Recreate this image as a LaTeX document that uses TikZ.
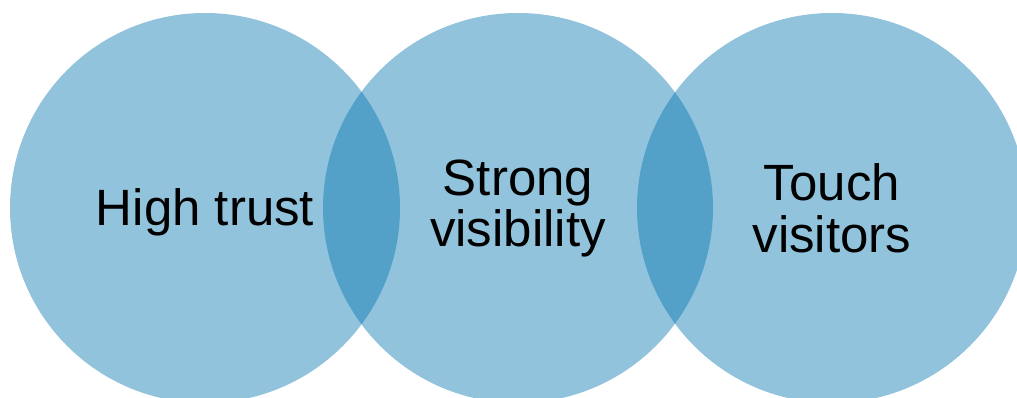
\documentclass[tikz,border=0pt]{standalone}
\usepackage{fontspec}
\setmainfont{Liberation Sans}
\begin{document}
\begin{tikzpicture}[x=1pt,y=-1pt,
  bubble/.style={circle, minimum size=390pt, inner sep=0pt, fill={rgb,255:red,2;green,116;blue,174}, fill opacity=0.43, text opacity=1, text=black, align=center, font=\fontsize{51}{51}\selectfont}]
\useasboundingbox (0,0) rectangle (1017,398);
\begin{scope}
\clip (0,0) rectangle (1017,398);
\node[bubble] (c1) at (205,208) {\raisebox{-4pt}[\height][\depth]{High trust}};
\node[bubble] (c2) at (518,208) {Strong\\visibility};
\node[bubble] (c3) at (832,208) {\raisebox{-1pt}{Touch}\\[2pt]visitors};
\end{scope}
\end{tikzpicture}
\end{document}
